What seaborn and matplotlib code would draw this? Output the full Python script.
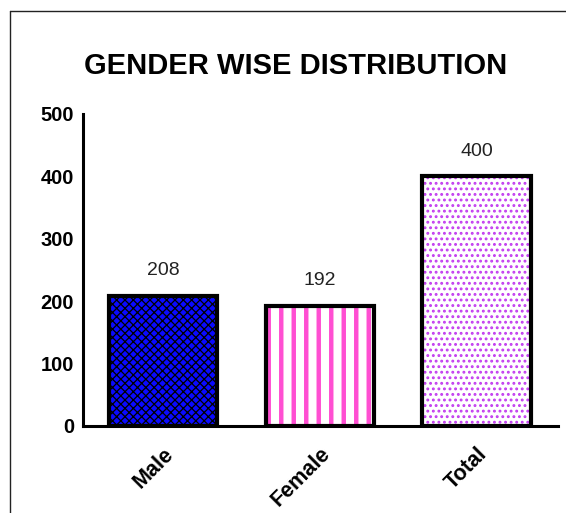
import matplotlib
matplotlib.use("Agg")
import matplotlib.pyplot as plt
import matplotlib.hatch as mhatch
import seaborn as sns
import pandas as pd
from matplotlib.patches import Rectangle
from matplotlib.lines import Line2D

categories = ["Male", "Female", "Total"]
counts = [208, 192, 400]
fill_colors = ["#0a0aff", "#ffffff", "#ffffff"]
hatch_colors = ["#000000", "#ff4fd2", "#c23cf0"]
hatch_patterns = ["xxxx", "|", "..."]


class StripeHatch(mhatch.VerticalHatch):
    """Vertical stripes at eight lines per inch for each '|'."""

    def __init__(self, hatch, density):
        super().__init__(hatch, density)
        self.num_lines = int((hatch.count("|") + hatch.count("+")) * 8)
        self.num_vertices = self.num_lines * 2


mhatch._hatch_types = [StripeHatch if t is mhatch.VerticalHatch else t
                       for t in mhatch._hatch_types]

sns.set_theme(style="white")
plt.rcParams["font.family"] = ["Liberation Sans", "DejaVu Sans"]

df = pd.DataFrame({"group": categories, "count": counts})

fig = plt.figure(figsize=(5.66, 5.13), dpi=100)
ax = fig.add_axes([0.1466, 0.1696, 0.986 - 0.1466, 0.778 - 0.1696])

sns.barplot(data=df, x="group", y="count", hue="group",
            palette=dict(zip(categories, fill_colors)), legend=False,
            width=0.69, edgecolor="black", linewidth=0, saturation=1, ax=ax)

hatch_widths = [0.9, 3.2, 1.3]
bars = list(ax.patches)
for bar, hc, hp, hw in zip(bars, hatch_colors, hatch_patterns, hatch_widths):
    x, y = bar.get_xy()
    w, h = bar.get_width(), bar.get_height()
    hatch = Rectangle((x, y), w, h, facecolor="none", edgecolor=hc,
                      linewidth=0, hatch=hp, zorder=bar.get_zorder() + 0.1)
    if hasattr(hatch, "set_hatch_linewidth"):
        hatch.set_hatch_linewidth(hw)
    ax.add_patch(hatch)
    outline = Rectangle((x, y), w, h, facecolor="none", edgecolor="black",
                        linewidth=3.0, joinstyle="miter",
                        zorder=bar.get_zorder() + 0.2)
    ax.add_patch(outline)

for container in ax.containers:
    ax.bar_label(container, padding=12, fontsize=14, color="#222222")

ax.set_ylim(0, 500)
ax.set_xlim(-0.51, 2.52)
ax.set_yticks([0, 100, 200, 300, 400, 500])
ax.set_xlabel("")
ax.set_ylabel("")

for side in ("top", "right"):
    ax.spines[side].set_visible(False)
for side in ("left", "bottom"):
    ax.spines[side].set_linewidth(2.2)
    ax.spines[side].set_color("black")

ax.tick_params(axis="both", direction="out", length=4.5, width=2.2,
               colors="black", labelcolor="black")
ax.tick_params(axis="y", labelsize=14.5, pad=2)
ax.tick_params(axis="x", labelsize=15.5, pad=8)
for lbl in ax.get_yticklabels():
    lbl.set_fontweight("bold")
for lbl in ax.get_xticklabels():
    lbl.set_fontweight("bold")
    lbl.set_rotation(45)
    lbl.set_ha("right")
    lbl.set_rotation_mode("anchor")

fig.text(0.523, 0.871, "GENDER WISE DISTRIBUTION", ha="center", va="center",
         fontsize=21, fontweight="bold", color="black")

# thin frame along the top and left edges of the figure
fig.add_artist(Line2D([10 / 566, 1.0], [1 - 11 / 513, 1 - 11 / 513],
                      transform=fig.transFigure, color="#222222", linewidth=1))
fig.add_artist(Line2D([10 / 566, 10 / 566], [0.0, 1 - 11 / 513],
                      transform=fig.transFigure, color="#222222", linewidth=1))

fig.savefig("out.png", dpi=100, facecolor="white")
